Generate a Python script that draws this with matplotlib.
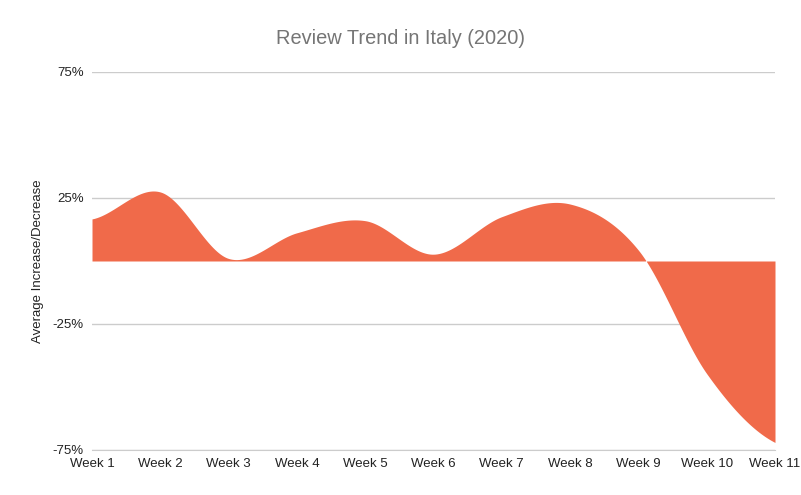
import numpy as np
import matplotlib.pyplot as plt

plt.rcParams['font.family'] = ['Liberation Sans', 'DejaVu Sans']

weeks = ['Week 1', 'Week 2', 'Week 3', 'Week 4', 'Week 5', 'Week 6',
         'Week 7', 'Week 8', 'Week 9', 'Week 10', 'Week 11']
change = [16.7, 27.4, 1.0, 11.2, 16.0, 2.7, 17.6, 22.6, 4.3, -44.7, -72.0]
yticks = [-75, -25, 25, 75]


def smooth(xs, ys, n=40, t=0.5):
    # catmull-rom style curve through the points
    xs = np.asarray(xs, float)
    ys = np.asarray(ys, float)
    px = np.concatenate([[2 * xs[0] - xs[1]], xs, [2 * xs[-1] - xs[-2]]])
    py = np.concatenate([[ys[0]], ys, [ys[-1]]])
    outx, outy = [], []
    for i in range(1, len(px) - 2):
        s = np.linspace(0, 1, n, endpoint=(i == len(px) - 3))
        for arr_p, out in ((px, outx), (py, outy)):
            p0, p1, p2, p3 = arr_p[i - 1], arr_p[i], arr_p[i + 1], arr_p[i + 2]
            m1 = t * (p2 - p0)
            m2 = t * (p3 - p1)
            h00 = 2 * s**3 - 3 * s**2 + 1
            h10 = s**3 - 2 * s**2 + s
            h01 = -2 * s**3 + 3 * s**2
            h11 = s**3 - s**2
            out.extend(h00 * p1 + h10 * m1 + h01 * p2 + h11 * m2)
    return np.array(outx), np.array(outy)


x = np.arange(len(weeks))
sx, sy = smooth(x, change)

fig = plt.figure(figsize=(8.01, 4.95), dpi=100)
ax = fig.add_axes([92 / 801, 1 - 450 / 495, (775 - 92) / 801, (450 - 72) / 495])

ax.fill_between(sx, 0, sy, color='#f06a4a', linewidth=0)

ax.set_xlim(0, len(weeks) - 1)
ax.set_ylim(-75, 75)
ax.set_yticks(yticks)
ax.set_yticklabels([f'{v}%' for v in yticks])
ax.set_xticks(x)
ax.set_xticklabels(weeks)
ax.grid(axis='y', color='#cccccc', linewidth=1)
ax.set_axisbelow(True)
for sp in ['top', 'right', 'left']:
    ax.spines[sp].set_visible(False)
ax.spines['bottom'].set_color('#cccccc')
ax.tick_params(length=0, labelsize=9.5, colors='#222222')
ax.tick_params(axis='x', pad=6)
ax.tick_params(axis='y', pad=6)

ax.set_ylabel('Average Increase/Decrease', fontsize=9.5, color='#222222', labelpad=6)
fig.text(0.5, 1 - 39 / 495, 'Review Trend in Italy (2020)', ha='center', va='center',
         fontsize=14.4, color='#757575')

fig.savefig('out.png', dpi=100)
